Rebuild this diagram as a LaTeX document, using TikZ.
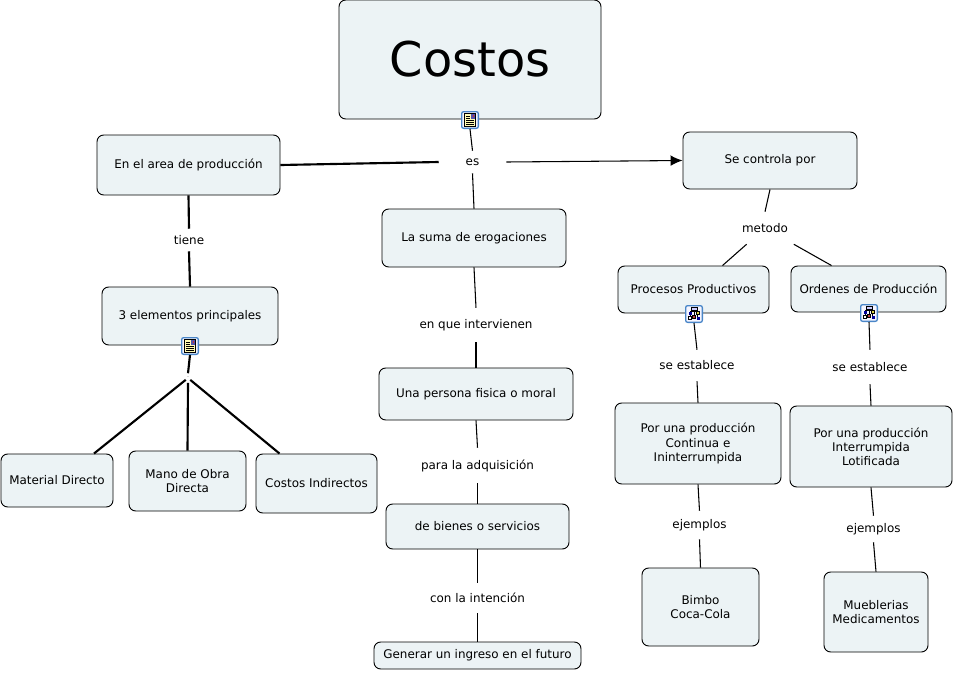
\documentclass[tikz,border=0pt]{standalone}
\usepackage{xcolor}
\usepackage{fontspec}
\setmainfont{DejaVu Sans}
\usepackage{tikz}
\usetikzlibrary{arrows.meta,calc}
\definecolor{conceptfill}{HTML}{ECF3F5}
\definecolor{iconblue}{HTML}{4A86C8}
\tikzset{
    concept/.style 2 args={
        draw,
        line width=.7pt,
        rounded corners=5pt,
        align=center,
        inner sep=0pt,
        minimum width=#1*.75pt,
        minimum height=#2*.75pt,
        fill=conceptfill,
        font=\fontsize{8.95pt}{10.6pt}\selectfont
    },
    linking/.style 2 args={
        align=center,
        inner sep=0pt,
        minimum width=#1*.75pt,
        minimum height=#2*.75pt,
        font=\fontsize{8.95pt}{11pt}\selectfont
    },
    flow/.style={line width=.8pt},
    heavy/.style={line width=1.6pt},
    iconbox/.style={
        draw=iconblue,
        line width=1pt,
        rounded corners=1.5pt,
        fill=blue!4,
        inner sep=0pt,
        minimum size=12.5pt
    },
    doc icon/.pic={
        \fill[yellow!30, draw=black, line width=.5pt] (-5.5,-6.5) rectangle (5.5,6.5);
        \fill[blue!35!gray] (.5,-6) rectangle (5,-1);
        \fill[red!60!gray] (2.5,-5) rectangle (4,-3.2);
        \foreach \ypos in {-4,-2}
            \draw[line width=.5pt] (-4,\ypos) -- (-.5,\ypos);
        \foreach \ypos in {.5,2.5,4.5}
            \draw[line width=.5pt] (-4,\ypos) -- (4,\ypos);
    },
    tree icon/.pic={
        \draw[line width=.4pt] (0,-4) -- (0,1) (-3.5,-3) -- (3.5,-3) (-3.5,-3) -- (-3.5,3) (3.5,-3) -- (3.5,3);
        \fill[blue!20, draw=black, line width=.4pt] (-3,-7) rectangle (3,-4);
        \fill[blue!60!black] (-5.5,-2.5) rectangle (-2,.5);
        \fill[yellow!70!gray, draw=black, line width=.4pt] (2,-2.5) rectangle (5.5,.5);
        \fill[white, draw=black, line width=.4pt] (-6,2.5) rectangle (-3,5.5);
        \fill[red!50!gray, draw=black, line width=.4pt] (-1.5,1) rectangle (1.5,4);
        \fill[blue!60!black] (3,2.5) rectangle (6,5.5);
    }
}
\begin{document}
\begin{tikzpicture}[x=.75pt,y=-.75pt]
    \useasboundingbox (0,0) rectangle (954,672);
    \node[concept={262}{119}, font=\fontsize{35.9pt}{40pt}\selectfont] (costos) at (470,59.5) {Costos};
    \node[concept={183}{60}] (area) at (188.5,165) {En el area de producción};
    \node[concept={174}{57}] (controla) at (770,160.5) {Se controla por};
    \node[concept={184}{58}] (suma) at (474,238) {La suma de erogaciones};
    \node[concept={176}{58}] (elementos) at (190,316) {3 elementos principales};
    \node[concept={112}{53}] (material) at (57,480.5) {Material Directo};
    \node[concept={117}{60}] (mano) at (187.5,481) {Mano de Obra\\Directa};
    \node[concept={121}{59}] (indirectos) at (316.5,483.5) {Costos Indirectos};
    \node[concept={194}{52}] (persona) at (476,394) {Una persona fisica o moral};
    \node[concept={183}{45}] (bienes) at (477.5,526.5) {de bienes o servicios};
    \node[concept={207}{27}] (ingreso) at (477.5,655.5) {Generar un ingreso en el futuro};
    \node[concept={151}{47}] (procesos) at (693.5,289.5) {Procesos Productivos};
    \node[concept={155}{46}] (ordenes) at (868.5,289) {Ordenes de Producción};
    \node[concept={166}{81}] (continua) at (698,443.5) {Por una producción\\Continua e\\Ininterrumpida};
    \node[concept={162}{81}] (lotificada) at (871,446.5) {Por una producción\\Interrumpida\\Lotificada};
    \node[concept={117}{78}] (bimbo) at (700.5,607) {Bimbo\\Coca-Cola};
    \node[concept={104}{80}] (muebles) at (876,612) {Mueblerias\\Medicamentos};

    \node[linking={67}{22}] (es) at (472.5,162) {es};
    \node[linking={50}{22}] (tiene) at (189,240) {tiene};
    \node[linking={4}{9}, font=\fontsize{4pt}{4pt}\selectfont, text=gray] (guion) at (188,378) {-};
    \node[linking={120}{34}] (intervienen) at (476,325) {en que intervienen};
    \node[linking={120}{35}] (adquisicion) at (477.5,465.5) {para la adquisición};
    \node[linking={110}{30}] (intencion) at (477.5,598) {con la intención};
    \node[linking={60}{32}] (metodo) at (765,228) {metodo};
    \node[linking={90}{31}] (establece1) at (697,365.5) {se establece};
    \node[linking={90}{34}] (establece2) at (870,367) {se establece};
    \node[linking={60}{28}] (ejemplos1) at (699.5,525) {ejemplos};
    \node[linking={60}{26}] (ejemplos2) at (873.5,529) {ejemplos};

    \node[iconbox] (iconcostos) at (470,120) {};
    \node[iconbox] (iconelementos) at (190,346) {};
    \node[iconbox] (iconprocesos) at (694,314) {};
    \node[iconbox] (iconordenes) at (869,313) {};
    \pic at (iconcostos) {doc icon};
    \pic at (iconelementos) {doc icon};
    \pic at (iconprocesos) {tree icon};
    \pic at (iconordenes) {tree icon};

    \draw[flow] (iconcostos.south) -- (es.north);
    \draw[flow] (es.south) -- (suma.north);
    \draw[heavy] (area.east) -- (es.west);
    \draw[flow, -{Latex[length=9pt,width=8pt]}] (es.east) -- (controla.west);
    \draw[heavy] (area.south) -- (tiene.north);
    \draw[heavy] (tiene.south) -- (elementos.north);
    \draw[heavy] (iconelementos.south) -- (guion.north);
    \draw[heavy] (guion) -- ($(material.north)+(37,0)$);
    \draw[heavy] (guion.south) -- (mano.north);
    \draw[heavy] (guion) -- ($(indirectos.north)+(-37,0)$);
    \draw[flow] (suma.south) -- (intervienen.north);
    \draw[flow] (intervienen.south) -- (persona.north);
    \draw[flow] (persona.south) -- (adquisicion.north);
    \draw[flow] (adquisicion.south) -- (bienes.north);
    \draw[flow] (bienes.south) -- (intencion.north);
    \draw[flow] (intencion.south) -- (ingreso.north);
    \draw[flow] (controla.south) -- (metodo.north);
    \draw[flow] (metodo) -- ($(procesos.north)+(29,0)$);
    \draw[flow] (metodo) -- ($(ordenes.north)+(-37,0)$);
    \draw[flow] (iconprocesos.south) -- (establece1.north);
    \draw[flow] (establece1.south) -- (continua.north);
    \draw[flow] (continua.south) -- (ejemplos1.north);
    \draw[flow] (ejemplos1.south) -- (bimbo.north);
    \draw[flow] (iconordenes.south) -- (establece2.north);
    \draw[flow] (establece2.south) -- (lotificada.north);
    \draw[flow] (lotificada.south) -- (ejemplos2.north);
    \draw[flow] (ejemplos2.south) -- (muebles.north);
\end{tikzpicture}
\end{document}
